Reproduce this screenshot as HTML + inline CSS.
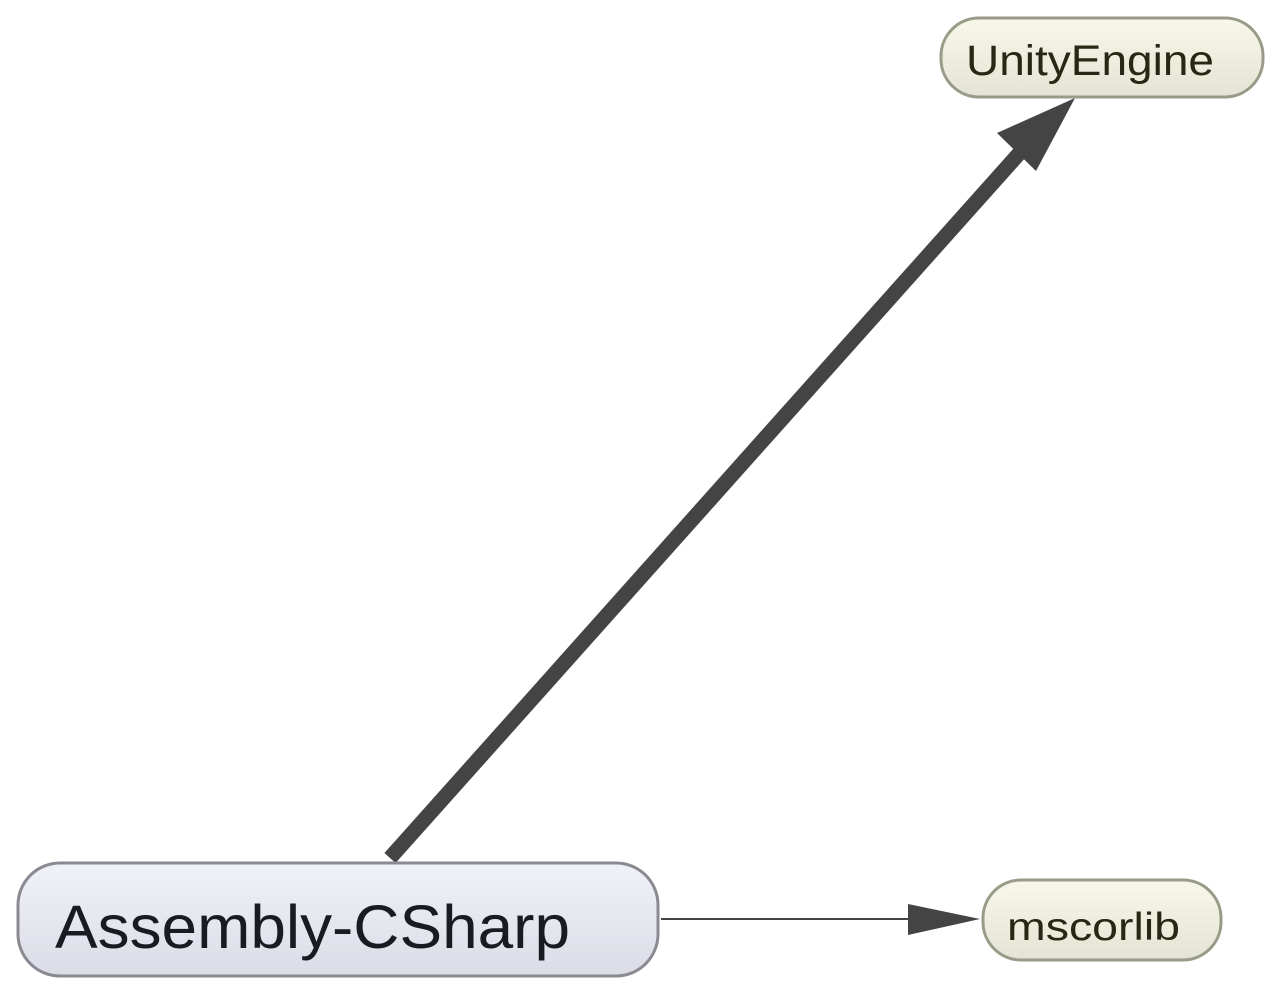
<!DOCTYPE html>
<html><head><meta charset="utf-8"><style>html,body{margin:0;padding:0;background:#fff}</style></head>
<body>
<svg width="1280" height="993" viewBox="0 0 1280 993" xmlns="http://www.w3.org/2000/svg" font-family="Liberation Sans, sans-serif">
<defs>
<linearGradient id="ga" x1="0" y1="0" x2="0" y2="1"><stop offset="0" stop-color="#f1f1fa"/><stop offset="1" stop-color="#dcdce6"/></linearGradient>
<linearGradient id="gb" x1="0" y1="0" x2="0" y2="1"><stop offset="0" stop-color="#f8f8ea"/><stop offset="1" stop-color="#e4e4d4"/></linearGradient>
</defs>
<line x1="390" y1="858" x2="1024" y2="148" stroke="#444" stroke-width="15"/>
<polygon points="997,133 1075,98 1036,171" fill="#444"/>
<line x1="661" y1="919" x2="912" y2="919" stroke="#444" stroke-width="2"/>
<polygon points="908,904 980,919 908,935" fill="#444"/>
<rect x="18" y="863" width="640" height="113" rx="42" fill="url(#ga)" stroke="#8a8a92" stroke-width="3"/>
<text x="55" y="948" font-size="61" fill="#1a1a22" textLength="515" lengthAdjust="spacingAndGlyphs">Assembly-CSharp</text>
<rect x="941" y="18" width="322" height="79" rx="38" fill="url(#gb)" stroke="#9a9a88" stroke-width="3"/>
<text x="966" y="75" font-size="43" fill="#2a2614" textLength="248" lengthAdjust="spacingAndGlyphs">UnityEngine</text>
<rect x="983" y="880" width="238" height="80" rx="38" fill="url(#gb)" stroke="#9a9a88" stroke-width="3"/>
<text x="1007" y="940" font-size="39" fill="#2a2614" textLength="173" lengthAdjust="spacingAndGlyphs">mscorlib</text>
</svg>
</body></html>
